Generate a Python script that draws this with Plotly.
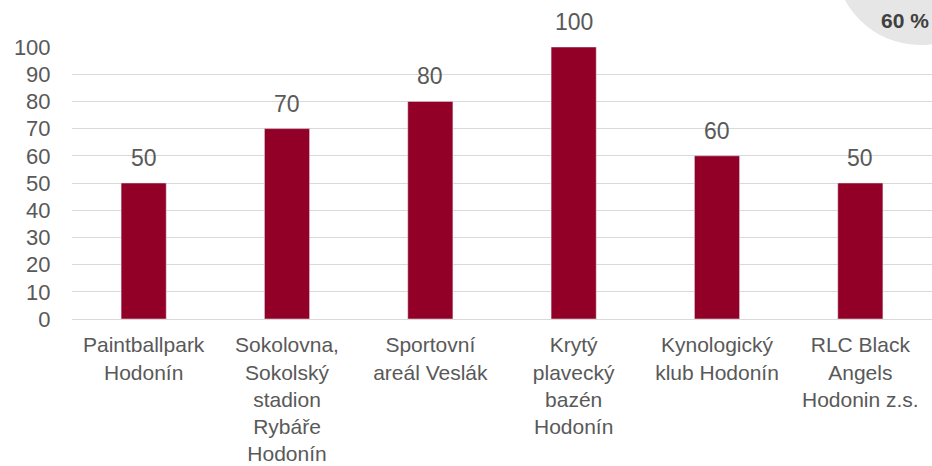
import plotly.graph_objects as go

categories = [
    "Paintballpark<br>Hodonín",
    "Sokolovna,<br>Sokolský<br>stadion<br>Rybáře<br>Hodonín",
    "Sportovní<br>areál Veslák",
    "Krytý<br>plavecký<br>bazén<br>Hodonín",
    "Kynologický<br>klub Hodonín",
    "RLC Black<br>Angels<br>Hodonin z.s.",
]
values = [50, 70, 80, 100, 60, 50]
y_ticks = [0, 10, 20, 30, 40, 50, 60, 70, 80, 90, 100]
badge_text = "60 %"

BAR = "#930027"
TXT = "#595959"
FONT = "Liberation Sans, Arial, sans-serif"

fig = go.Figure()
fig.add_trace(go.Bar(
    x=categories, y=values, marker_color=BAR, width=0.315,
    hoverinfo="skip",
))

for c, v in zip(categories, values):
    fig.add_annotation(x=c, y=v, text=str(v), showarrow=False,
                       yanchor="middle", yshift=25,
                       font=dict(family=FONT, size=23, color=TXT))

# badge circle top-right (paper coords; plot area 72..932 x 47..319)
W, H = 860.0, 272.0
def px(x):
    return (x - 72) / W
def py(y):
    return (319 - y) / H

fig.add_shape(type="circle", xref="paper", yref="paper",
              x0=px(835), x1=px(1005), y0=py(45), y1=py(-125),
              fillcolor="#E6E6E6", line=dict(width=0), layer="below")
fig.add_annotation(xref="paper", yref="paper", x=px(931), y=py(21),
                   xanchor="right", yanchor="middle", text="<b>" + badge_text + "</b>",
                   showarrow=False, font=dict(family=FONT, size=21, color="#404040"))

fig.update_layout(
    width=932, height=466,
    margin=dict(l=72, r=0, t=47, b=147),
    plot_bgcolor="white", paper_bgcolor="white",
    showlegend=False,
)
fig.update_yaxes(range=[0, 100], tickvals=y_ticks, showgrid=True,
                 gridcolor="#D9D9D9", gridwidth=1, zeroline=False,
                 ticks="outside", ticklen=16, tickcolor="rgba(0,0,0,0)",
                 automargin=False,
                 tickfont=dict(family=FONT, size=22, color=TXT), fixedrange=True)
fig.update_xaxes(showline=True, linecolor="#D9D9D9", linewidth=1,
                 ticks="outside", ticklen=7, tickcolor="rgba(0,0,0,0)",
                 automargin=False,
                 tickfont=dict(family=FONT, size=21, color=TXT), tickangle=0)

fig.write_html("out.html", config={"displayModeBar": False},
               post_script="document.body.style.margin='0';")
